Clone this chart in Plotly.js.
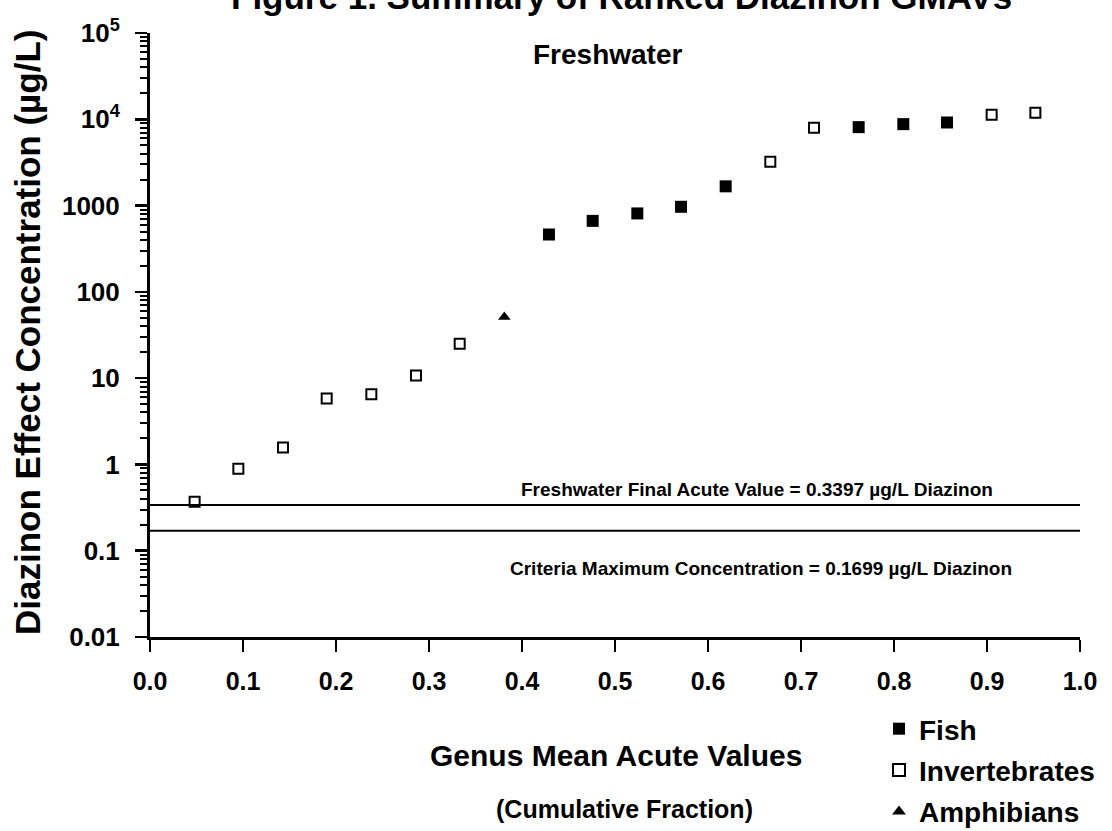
<!DOCTYPE html>
<html>
<head>
<meta charset="utf-8">
<script src="https://cdn.plot.ly/plotly-3.0.1.min.js"></script>
<style>html,body{margin:0;padding:0;background:#fff;}#chart{width:1112px;height:831px;}</style>
</head>
<body>
<div id="chart"></div>
<script>
// Cumulative fraction (x) and GMAV (µg/L) per group
const fishX = [0.429, 0.476, 0.524, 0.571, 0.619, 0.762, 0.810, 0.857];
const fishY = [462, 665, 811, 968, 1671, 8110, 8790, 9180];
const invertX = [0.048, 0.095, 0.143, 0.190, 0.238, 0.286, 0.333, 0.667, 0.714, 0.905, 0.952];
const invertY = [0.37, 0.89, 1.57, 5.8, 6.5, 10.7, 25, 3228, 7960, 11270, 11900];
const amphX = [0.381];
const amphY = [51];

const criteriaLabels = ["Freshwater Final Acute Value = 0.3397 µg/L Diazinon", "Criteria Maximum Concentration = 0.1699 µg/L Diazinon"];
const criteriaValues = [0.3397, 0.1699];
const criteriaSpan = [0, 1];

const yTickVals = [0.01, 0.1, 1, 10, 100, 1000, 10000, 100000];
const yTickText = ["0.01", "0.1", "1", "10", "100", "1000", "10<sup>4</sup>", "10<sup>5</sup>"];
const xTickVals = [0, 0.1, 0.2, 0.3, 0.4, 0.5, 0.6, 0.7, 0.8, 0.9, 1.0];
const xTickText = ["0.0", "0.1", "0.2", "0.3", "0.4", "0.5", "0.6", "0.7", "0.8", "0.9", "1.0"];

const FONT = "Arial, 'Liberation Sans', sans-serif";

const traces = [];
criteriaValues.forEach((v, i) => {
  traces.push({
    x: criteriaSpan, y: [v, v], mode: "lines", type: "scatter",
    line: {color: "#000", width: 2}, showlegend: false, hoverinfo: "skip"
  });
});
traces.push({
  x: fishX, y: fishY, mode: "markers", type: "scatter", name: "Fish", legendgroup: "g1",
  marker: {symbol: "square", size: 12, color: "#000", line: {color: "#000", width: 0}}
});
traces.push({
  x: invertX, y: invertY, mode: "markers", type: "scatter", name: "Invertebrates", legendgroup: "g2",
  marker: {symbol: "square-open", size: 10, color: "#000", line: {color: "#000", width: 2}}
});
traces.push({
  x: amphX, y: amphY, mode: "markers", type: "scatter", name: "Amphibians", legendgroup: "g3",
  marker: {symbol: "triangle-up", size: 11, color: "#000"}
});

const L = 150, R = 1080, T = 33, B = 637;
const W = R - L, H = B - T;
const px = p => (p - L) / W;
const py = p => (B - p) / H;

function ann(text, x, y, size, extra) {
  return Object.assign({text: text, xref: "paper", yref: "paper", x: px(x), y: py(y),
    xanchor: "center", yanchor: "middle", showarrow: false,
    font: {family: FONT, size: size, weight: "bold", color: "#000"}}, extra || {});
}

const annotations = [
  ann("Figure 1. Summary of Ranked Diazinon GMAVs", 621, -3, 35),
  ann("Freshwater", 607, 54, 28),
  ann("Diazinon Effect Concentration (µg/L)", 27, 333, 35, {textangle: -90}),
  ann("Genus Mean Acute Values", 616, 755, 30),
  ann("(Cumulative Fraction)", 624, 809, 25),
  ann(criteriaLabels[0], 757, 489, 19),
  ann(criteriaLabels[1], 761, 568, 19)
];

const layout = {
  width: 1112, height: 831,
  margin: {l: L, r: 1112 - R, t: T, b: 831 - B, pad: 0, autoexpand: false},
  paper_bgcolor: "#fff", plot_bgcolor: "#fff",
  font: {family: FONT, color: "#000"},
  showlegend: true,
  legend: {x: px(879), y: py(704), xanchor: "left", yanchor: "top",
           font: {family: FONT, size: 28, weight: "bold", color: "#000"},
           tracegroupgap: 2, bgcolor: "rgba(0,0,0,0)", itemsizing: "constant"},
  xaxis: {
    range: [0, 1], tickmode: "array", tickvals: xTickVals, ticktext: xTickText,
    showgrid: false, zeroline: false, showline: true, linecolor: "#000", linewidth: 3,
    ticks: "outside", ticklen: 12, tickwidth: 2.5, tickcolor: "#000",
    tickfont: {family: FONT, size: 25, weight: "bold", color: "#000"}, ticklabelstandoff: 8
  },
  yaxis: {
    type: "log", range: [-2, 5], tickmode: "array", tickvals: yTickVals, ticktext: yTickText,
    showgrid: false, zeroline: false, showline: true, linecolor: "#000", linewidth: 3,
    ticks: "outside", ticklen: 12, tickwidth: 2.5, tickcolor: "#000",
    tickfont: {family: FONT, size: 26, weight: "bold", color: "#000"}, ticklabelstandoff: 10,
    minor: {ticks: "outside", ticklen: 7, tickwidth: 2, tickcolor: "#000", dtick: "D1", showgrid: false}
  },
  annotations: annotations
};

Plotly.newPlot("chart", traces, layout, {displayModeBar: false, staticPlot: true});
</script>
</body>
</html>
